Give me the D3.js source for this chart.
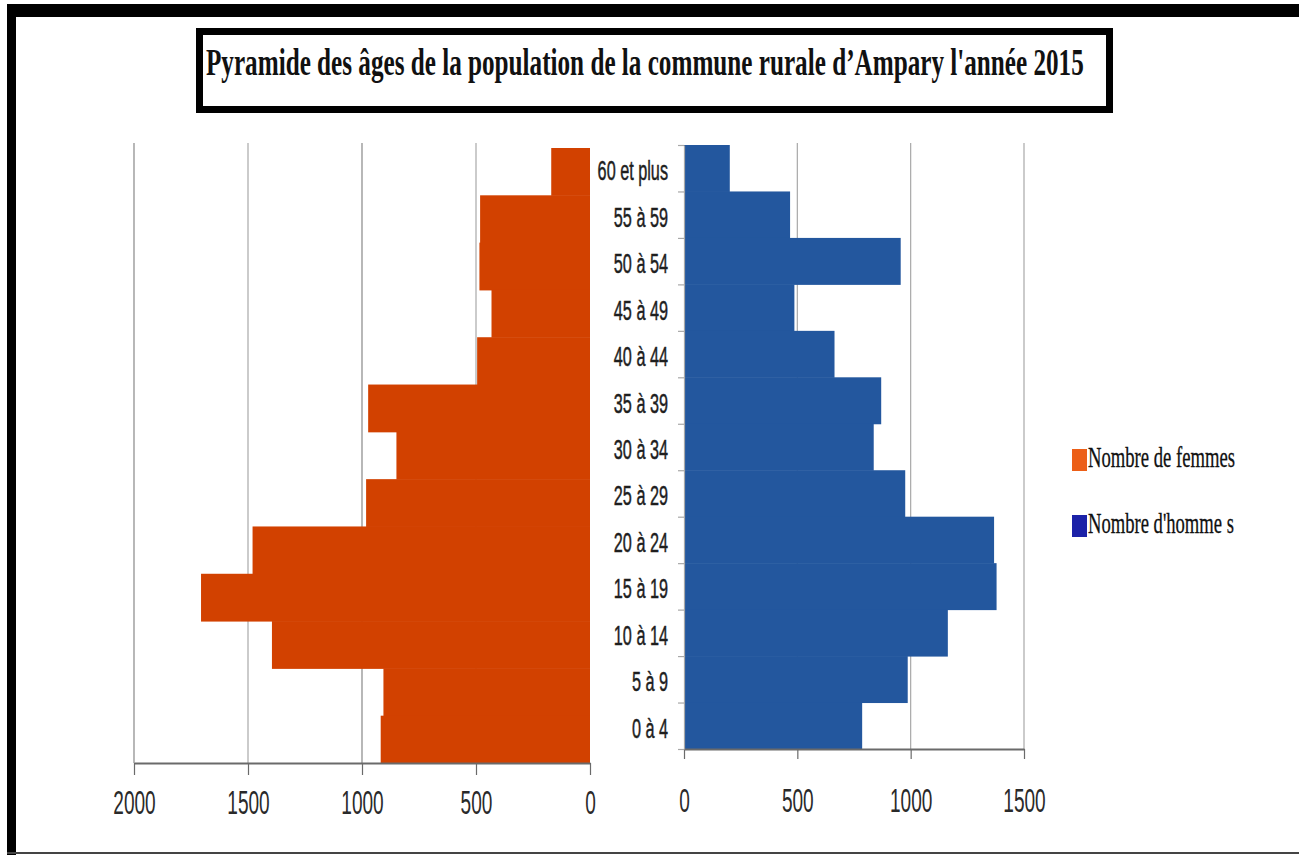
<!DOCTYPE html>
<html>
<head>
<meta charset="utf-8">
<script src="https://cdn.jsdelivr.net/npm/d3@7"></script>
<style>
  html, body { margin: 0; padding: 0; background: #fff; }
  svg { display: block; }
</style>
</head>
<body>
<svg id="chart"></svg>
<script>
// age groups, top to bottom
const categories = ['60 et plus', '55 à 59', '50 à 54', '45 à 49', '40 à 44', '35 à 39', '30 à 34',
  '25 à 29', '20 à 24', '15 à 19', '10 à 14', '5 à 9', '0 à 4'];
const femmes = [170, 482, 485, 432, 495, 973, 849, 982, 1480, 1706, 1395, 906, 918];
const hommes = [202, 468, 956, 487, 664, 870, 837, 976, 1368, 1379, 1164, 987, 786];
const leftTicks = [0, 500, 1000, 1500, 2000];
const rightTicks = [0, 500, 1000, 1500];
const legendLabels = ['Nombre de femmes', "Nombre d'homme s"];

const width = 1299, height = 855;
const svg = d3.select('#chart').attr('width', width).attr('height', height);

// squeeze a text horizontally so it spans the given width
function fitWidth(text, x, y, w) {
  const natural = text.node().getComputedTextLength();
  text.attr('x', 0).attr('y', 0)
    .attr('transform', `translate(${x},${y}) scale(${w / natural},1)`);
}

// page frame
svg.append('rect').attr('x', 7).attr('y', 4).attr('width', width - 7).attr('height', 13).attr('fill', '#000');
svg.append('rect').attr('x', 7).attr('y', 4).attr('width', 9).attr('height', height - 4).attr('fill', '#000');
svg.append('rect').attr('x', 7).attr('y', 852).attr('width', width - 7).attr('height', 2).attr('fill', '#444');

// title box
svg.append('rect')
  .attr('x', 199.5).attr('y', 31.5).attr('width', 910).attr('height', 78)
  .attr('fill', '#fff').attr('stroke', '#000').attr('stroke-width', 7);
const title = svg.append('text')
  .attr('font-family', '"Liberation Serif", "Times New Roman", serif')
  .attr('font-weight', 'bold').attr('font-size', 38).attr('fill', '#111')
  .text("Pyramide des âges de la population de la commune rurale d\u2019Ampary l'année 2015");
fitWidth(title, 206, 75, 878);

const orange = '#d24100', blue = '#23579e';
const gridColor = '#a8a8a8', axisColor = '#6a6a6a';

// ---- left panel (femmes)
const xL = d3.scaleLinear().domain([0, 2000]).range([590, 134]);
const yL = d3.scaleBand().domain(categories).range([148, 763]);
const leftBottom = 763;

svg.append('g').selectAll('line')
  .data(leftTicks.filter(d => d > 0))
  .join('line')
  .attr('x1', d => xL(d)).attr('x2', d => xL(d))
  .attr('y1', 143).attr('y2', leftBottom)
  .attr('stroke', d => d % 1000 === 0 ? '#888' : gridColor).attr('stroke-width', 1.2);

svg.append('g').selectAll('rect')
  .data(categories)
  .join('rect')
  .attr('x', (d, i) => xL(femmes[i]))
  .attr('y', d => yL(d))
  .attr('width', (d, i) => xL(0) - xL(femmes[i]))
  .attr('height', yL.bandwidth() + 0.5)
  .attr('fill', orange);

const axL = svg.append('g')
  .attr('transform', `translate(0,${leftBottom})`)
  .call(d3.axisBottom(xL).tickValues(leftTicks).tickFormat(d3.format('d'))
    .tickSize(12).tickSizeOuter(0).tickPadding(15));

// ---- right panel (hommes)
const xR = d3.scaleLinear().domain([0, 1500]).range([684, 1024]);
const yR = d3.scaleBand().domain(categories).range([145, 749]);
const rightBottom = 749;

svg.append('g').selectAll('line')
  .data(rightTicks.filter(d => d > 0))
  .join('line')
  .attr('x1', d => xR(d)).attr('x2', d => xR(d))
  .attr('y1', 143).attr('y2', rightBottom)
  .attr('stroke', gridColor).attr('stroke-width', 1.2);

svg.append('g').selectAll('rect')
  .data(categories)
  .join('rect')
  .attr('x', xR(0))
  .attr('y', d => yR(d))
  .attr('width', (d, i) => xR(hommes[i]) - xR(0))
  .attr('height', yR.bandwidth() + 0.5)
  .attr('fill', blue);

const axR = svg.append('g')
  .attr('transform', `translate(0,${rightBottom})`)
  .call(d3.axisBottom(xR).tickValues(rightTicks).tickFormat(d3.format('d'))
    .tickSize(10).tickSizeOuter(0).tickPadding(29));

// category axis: boundary ticks + labels
const yIdx = d3.scaleLinear().domain([0, categories.length]).range([145, 749]);
svg.append('g')
  .attr('transform', `translate(${xR(0)},0)`)
  .call(d3.axisLeft(yIdx).tickValues(d3.range(categories.length + 1)).tickFormat('').tickSize(6).tickSizeOuter(0))
  .call(g => g.selectAll('line, path').attr('stroke', gridColor).attr('stroke-width', 1.2));

const axCat = svg.append('g')
  .attr('transform', 'translate(668,3)')
  .call(d3.axisLeft(yR).tickSize(0).tickPadding(0));
axCat.select('.domain').remove();
axCat.selectAll('text')
  .attr('font-family', '"Liberation Sans", Arial, sans-serif')
  .attr('font-size', 28).attr('fill', '#1e1e1e')
  .attr('stroke', '#1e1e1e').attr('stroke-width', 0.5)
  .attr('transform', 'scale(0.58,1)');

// style bottom axes
[axL, axR].forEach(ax => {
  ax.select('.domain').attr('stroke', axisColor).attr('stroke-width', 2);
  ax.selectAll('.tick line').attr('stroke', axisColor).attr('stroke-width', 1.2);
  ax.selectAll('text')
    .attr('font-family', '"Liberation Sans", Arial, sans-serif')
    .attr('font-size', 34).attr('fill', '#2a2a2a')
    .attr('transform', 'scale(0.56,1)');
});

// legend
const legend = svg.append('g').attr('transform', 'translate(1072,449)');
const legendColors = ['#ec5f17', '#1c22a8'];
legendLabels.forEach((label, i) => {
  const row = legend.append('g').attr('transform', `translate(0,${i * 66})`);
  row.append('rect').attr('width', 15).attr('height', 22).attr('fill', legendColors[i]);
  const t = row.append('text')
    .attr('font-family', '"Liberation Serif", "Times New Roman", serif')
    .attr('font-size', 29).attr('fill', '#111')
    .attr('stroke', '#111').attr('stroke-width', 0.3)
    .text(label);
  fitWidth(t, 16, 18, i === 0 ? 147 : 146);
});
</script>
</body>
</html>
